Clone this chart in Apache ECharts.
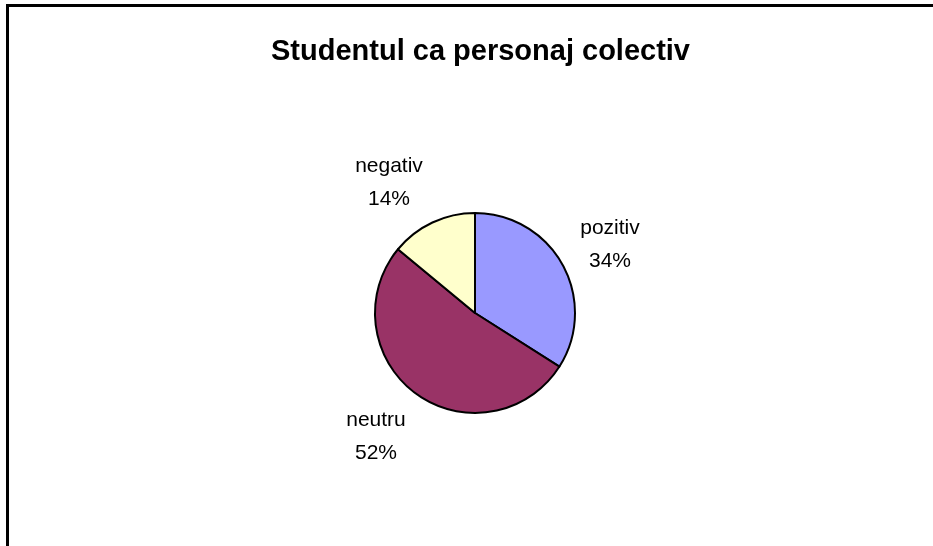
<!DOCTYPE html>
<html>
<head>
<meta charset="utf-8">
<script src="https://cdn.jsdelivr.net/npm/echarts@6/dist/echarts.min.js"></script>
<style>
html,body{margin:0;padding:0;background:#fff;}
#chart{width:933px;height:546px;}
</style>
</head>
<body>
<div id="chart"></div>
<script>
const titleText = 'Studentul ca personaj colectiv';
const categories = ['pozitiv', 'neutru', 'negativ'];
const values = [34, 52, 14];
const colors = ['#9999FF', '#993366', '#FFFFCC'];

// label anchor positions (style/layout constants), by slice index
const labelPos = [[610, 245], [376, 437], [389, 183]];

const chart = echarts.init(document.getElementById('chart'));
chart.setOption({
  backgroundColor: '#ffffff',
  animation: false,
  title: {
    text: titleText,
    left: 266,
    top: 32,
    textStyle: {
      fontFamily: 'Liberation Sans, Arial, sans-serif',
      fontSize: 29,
      fontWeight: 'bold',
      color: '#000'
    }
  },
  graphic: [{
    type: 'polyline',
    shape: { points: [[7.5, 546], [7.5, 5.5], [933, 5.5]] },
    style: { stroke: '#000', lineWidth: 3, fill: null },
    silent: true
  }],
  series: [{
    type: 'pie',
    center: [475, 313],
    radius: [0, 100],
    startAngle: 90,
    clockwise: true,
    data: categories.map((c, i) => ({
      name: c,
      value: values[i],
      itemStyle: { color: colors[i] }
    })),
    itemStyle: { borderColor: '#000', borderWidth: 2 },
    label: {
      show: true,
      position: 'outside',
      formatter: '{b}\n{d}%',
      fontFamily: 'Liberation Sans, Arial, sans-serif',
      fontSize: 21,
      lineHeight: 33,
      color: '#000',
      align: 'center'
    },
    labelLine: { show: false },
    labelLayout: function (p) {
      const pos = labelPos[p.dataIndex];
      return { x: pos[0], y: pos[1], align: 'center', verticalAlign: 'middle' };
    },
    emphasis: { disabled: true }
  }]
});
</script>
</body>
</html>
